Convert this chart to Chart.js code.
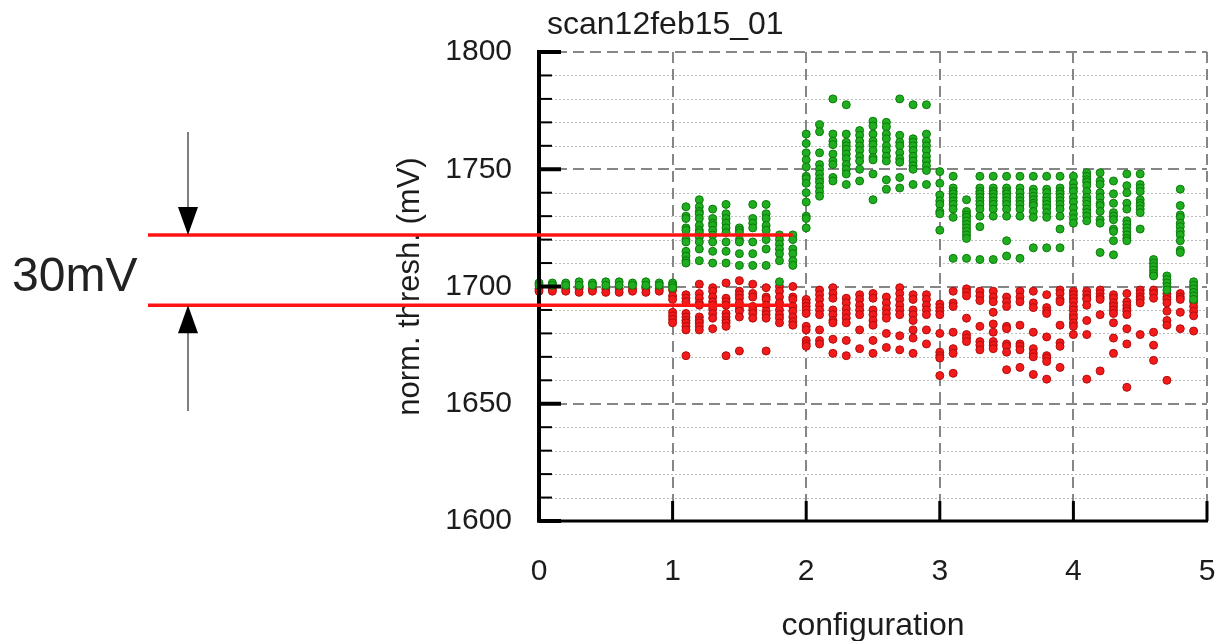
<!DOCTYPE html>
<html>
<head>
<meta charset="utf-8">
<title>scan12feb15_01</title>
<script src="https://cdn.jsdelivr.net/npm/chart.js@4.4.0/dist/chart.umd.min.js"></script>
<style>
  html, body { margin: 0; padding: 0; background: #fff; }
  #wrap { width: 1221px; height: 641px; }
</style>
</head>
<body>
<div id="wrap"><canvas id="thr" width="1221" height="641"></canvas></div>
<script>
// ----- data -----
const configs = [
  0.0, 0.1, 0.2, 0.3, 0.4, 0.5, 0.6, 0.7, 0.8, 0.9,
  1.0, 1.1, 1.2, 1.3, 1.4, 1.5, 1.6, 1.7, 1.8, 1.9,
  2.0, 2.1, 2.2, 2.3, 2.4, 2.5, 2.6, 2.7, 2.8, 2.9,
  3.0, 3.1, 3.2, 3.3, 3.4, 3.5, 3.6, 3.7, 3.8, 3.9,
  4.0, 4.1, 4.2, 4.3, 4.4, 4.5, 4.6, 4.7, 4.8, 4.9
];

// thresholds per configuration (mV), upper group
const greenThr = [
  [1701.5, 1700.5], [1701.5, 1700.5], [1701.5, 1700.5], [1702, 1700.5], [1701.5, 1700.5],
  [1702, 1700.5], [1702, 1700.5], [1701.5, 1700.5], [1702, 1700.5], [1701.5, 1700.5],
  [1701.5, 1700.5, 1699.5],
  [1734, 1730, 1729, 1725, 1724, 1720, 1719, 1715, 1713, 1711, 1710],
  [1737, 1734, 1732, 1731, 1729, 1726, 1724, 1723, 1721, 1719, 1716, 1711],
  [1733, 1729, 1727, 1726, 1724, 1722, 1719, 1715, 1710],
  [1735, 1731, 1729, 1727, 1725, 1723, 1719, 1715, 1710],
  [1725, 1724, 1723, 1720, 1719, 1714, 1709],
  [1735, 1729, 1727, 1725, 1719, 1714, 1709],
  [1735, 1731, 1729, 1726, 1724, 1720, 1716, 1709],
  [1722, 1720, 1718, 1716, 1714, 1711, 1702],
  [1722, 1720, 1716, 1714, 1711, 1709],
  [1765, 1761, 1757, 1754, 1751, 1747, 1746, 1744, 1740, 1736, 1730, 1729, 1725],
  [1769, 1766, 1757, 1752, 1750, 1748, 1746, 1744.5, 1742.5, 1740.5, 1738.5],
  [1780, 1765, 1762, 1760.5, 1756.5, 1753.5, 1752, 1746.5, 1745],
  [1777.5, 1765, 1761.5, 1760, 1758.5, 1756.5, 1754.5, 1752, 1750, 1748, 1743.5],
  [1766.5, 1764.5, 1762, 1760, 1758, 1755.5, 1753.5, 1750, 1745],
  [1770.5, 1768.5, 1765, 1762, 1760.5, 1758, 1755, 1754, 1748, 1737],
  [1770, 1768, 1765, 1763, 1760, 1758, 1755.5, 1753.5, 1745.5, 1741.5],
  [1780, 1764.5, 1761.5, 1760, 1757, 1754.5, 1753, 1746.5, 1742],
  [1777.5, 1763, 1761.5, 1760, 1758, 1755.5, 1753.5, 1751.5, 1750, 1743.5],
  [1777.5, 1765, 1762, 1760, 1758, 1755.5, 1753.5, 1751.5, 1749.5, 1743.5],
  [1749, 1744, 1739, 1736.5, 1735, 1732, 1731, 1724],
  [1747, 1742, 1740.5, 1739.5, 1738, 1736.5, 1735, 1733, 1729.5, 1712],
  [1737, 1732, 1730.5, 1729.5, 1728, 1726.5, 1725, 1723.5, 1722, 1720.5, 1712],
  [1747, 1742, 1740.5, 1739.5, 1738, 1736.5, 1735, 1733, 1730, 1725.5, 1711.5],
  [1747, 1742, 1740.5, 1739.5, 1738, 1736.5, 1735, 1733, 1730, 1711.5],
  [1747, 1742, 1740.5, 1739.5, 1738, 1736.5, 1735, 1733, 1730, 1719.5, 1713],
  [1747, 1742, 1740, 1738, 1736.5, 1735, 1733, 1730, 1712],
  [1747, 1741.5, 1740, 1738.5, 1737, 1735.5, 1734.5, 1732, 1729.5, 1716.5],
  [1747, 1741.5, 1740, 1738, 1736.5, 1735, 1733.5, 1731.5, 1729.5, 1716.5],
  [1747, 1742, 1740.5, 1739.5, 1738, 1736.5, 1735, 1733, 1730, 1724.5, 1716.5],
  [1747, 1744, 1742, 1740.5, 1738, 1736, 1733.5, 1731, 1729, 1727],
  [1748.5, 1747, 1745.5, 1744.5, 1743, 1740.5, 1738, 1736.5, 1735, 1733, 1731.5, 1730, 1728],
  [1748.5, 1745, 1743.5, 1740, 1738, 1735.5, 1734.5, 1732, 1728.5, 1727, 1714.5],
  [1745, 1739.5, 1735.5, 1731.5, 1730, 1728.5, 1724.5, 1723.5, 1719.5, 1713.5],
  [1748, 1743, 1740, 1735.5, 1733, 1728, 1726.5, 1725, 1723.5, 1722, 1720.5, 1719.5],
  [1748, 1743.5, 1742, 1740.5, 1737, 1735.5, 1734.5, 1733, 1731.5, 1724.5],
  [1711.5, 1710, 1708.5, 1707, 1705.5, 1704.5],
  [1704.5, 1703, 1701.5, 1700, 1698.5],
  [1741.5, 1734.5, 1730.5, 1729.5, 1727, 1725.5, 1723.5, 1722, 1719.5, 1715.5, 1714.5],
  [1702, 1700.5, 1699, 1697.5, 1696, 1694.5]
];

// thresholds per configuration (mV), lower group
const redThr = [
  [1699, 1698], [1699, 1698], [1699, 1698], [1699, 1697.5], [1699, 1698],
  [1699, 1697.5], [1699, 1697.5], [1699, 1698], [1699, 1697.5], [1699, 1698],
  [1698.5, 1696, 1694.5, 1689, 1687.5, 1686, 1684.5],
  [1696.5, 1695, 1693.5, 1688.5, 1687, 1685.5, 1684.5, 1683, 1681.5, 1670.5],
  [1701, 1697, 1695, 1693, 1692, 1687, 1685.5, 1684.5, 1683, 1681.5],
  [1699.5, 1698, 1695.5, 1693.5, 1692, 1690.5, 1688.5, 1686.5, 1682],
  [1701.5, 1695, 1693.5, 1692, 1688.5, 1687, 1685.5, 1684.5, 1683, 1670.5],
  [1702.5, 1698, 1696.5, 1695, 1693, 1690.5, 1689.5, 1687, 1672.5],
  [1701, 1697, 1695.5, 1691.5, 1690, 1688.5, 1686.5],
  [1699.5, 1695.5, 1694.5, 1692, 1689.5, 1688, 1686.5, 1672.5],
  [1700, 1698, 1695.5, 1693, 1690, 1688, 1686.5, 1684.5],
  [1700, 1695.5, 1694.5, 1691.5, 1689.5, 1687, 1685, 1683.5],
  [1694.5, 1693, 1691.5, 1690, 1688.5, 1683, 1681.5, 1677, 1675.5, 1674.5],
  [1698.5, 1696.5, 1694.5, 1692, 1690, 1688, 1681.5, 1677, 1675.5],
  [1699.5, 1697, 1695, 1690, 1688, 1685.5, 1684.5, 1677.5, 1671.5],
  [1695, 1693, 1690.5, 1688.5, 1686.5, 1684.5, 1677, 1670.5],
  [1696.5, 1694.5, 1692, 1690, 1688, 1681.5, 1673.5],
  [1697, 1695, 1690, 1688, 1685.5, 1683.5, 1677, 1671.5],
  [1695.5, 1693, 1690.5, 1688.5, 1686.5, 1680, 1674],
  [1699.5, 1697, 1694.5, 1692, 1690, 1688, 1679, 1673],
  [1696.5, 1694.5, 1690, 1688, 1685.5, 1681.5, 1678, 1671.5],
  [1696.5, 1694.5, 1692, 1690, 1688, 1681.5, 1675.5],
  [1692.5, 1691, 1689.5, 1688, 1680, 1672, 1670.5, 1669.5, 1662],
  [1698, 1693, 1691.5, 1680.5, 1673.5, 1671.5, 1663],
  [1699, 1697.5, 1696, 1686.5, 1679.5, 1678, 1676.5],
  [1698, 1696, 1694, 1683, 1676.5, 1675, 1673],
  [1698, 1695.5, 1693.5, 1689, 1684, 1680.5, 1676.5, 1675, 1673.5],
  [1695.5, 1693.5, 1691.5, 1683, 1682, 1675.5, 1674.5, 1672, 1664.5],
  [1698, 1695.5, 1693.5, 1683.5, 1675.5, 1674.5, 1673, 1665.5],
  [1698, 1693, 1691, 1680.5, 1673.5, 1671.5, 1670, 1662.5],
  [1696.5, 1691, 1689.5, 1688.5, 1678.5, 1670.5, 1669.5, 1668, 1660.5],
  [1698.5, 1697, 1694.5, 1693.5, 1683.5, 1676, 1674.5, 1665.5],
  [1698, 1696.5, 1695, 1693.5, 1691.5, 1690, 1688, 1686.5, 1684.5, 1683, 1679.5],
  [1698, 1696.5, 1695, 1694.5, 1692, 1685.5, 1679.5, 1660.5],
  [1698.5, 1697, 1695.5, 1694.5, 1688, 1664],
  [1696.5, 1695, 1693, 1691.5, 1690, 1688.5, 1684.5, 1678, 1671.5],
  [1697, 1693.5, 1692, 1690.5, 1689.5, 1688, 1682, 1675.5, 1657],
  [1698.5, 1697, 1695.5, 1694.5, 1693, 1679.5],
  [1698.5, 1697, 1695, 1680.5, 1675, 1668.5],
  [1697, 1695.5, 1694.5, 1693, 1689.5, 1685.5, 1683.5, 1660],
  [1697, 1695.5, 1694.5, 1689, 1682],
  [1693.5, 1691.5, 1689.5, 1687.5, 1681]
];

// spread markers drawn across the flat part of the scan
const spreadLevels = [1722, 1692];
const spreadEndConfig = 1.9;

const yTickStep = 10, yLabelStep = 50;

// ----- helpers -----
const FONT = '"Liberation Sans", Arial, Helvetica, sans-serif';
const INK = '#1c1c1c';
const toPoints = (cols) => cols.flatMap((ys, i) => ys.map((y) => ({ x: configs[i], y })));

function seg(ctx, x1, y1, x2, y2) {
  ctx.beginPath(); ctx.moveTo(x1, y1); ctx.lineTo(x2, y2); ctx.stroke();
}
function tri(ctx, tipX, tipY, baseY, half) {
  ctx.beginPath();
  ctx.moveTo(tipX, tipY); ctx.lineTo(tipX - half, baseY); ctx.lineTo(tipX + half, baseY);
  ctx.closePath(); ctx.fill();
}

// grid, axes with inward ticks, title and the spread marker
const plotDecor = {
  id: 'plotDecor',
  beforeDatasetsDraw(chart) {
    const { ctx, chartArea: a, scales: { x, y } } = chart;
    ctx.save();
    ctx.lineWidth = 1; ctx.strokeStyle = '#bdbdbd'; ctx.setLineDash([2, 2]);
    y.ticks.forEach((t) => {
      if (t.value % yLabelStep === 0) return;
      const py = Math.round(y.getPixelForValue(t.value)) + 0.5;
      seg(ctx, a.left, py, a.right, py);
    });
    ctx.lineWidth = 2; ctx.strokeStyle = '#868686'; ctx.setLineDash([11, 6]);
    y.ticks.forEach((t) => {
      if (t.value % yLabelStep !== 0 || t.value === y.min) return;
      const py = Math.round(y.getPixelForValue(t.value));
      seg(ctx, a.left, py, a.right, py);
    });
    x.ticks.forEach((t) => {
      if (t.value === x.min) return;
      const px = Math.round(x.getPixelForValue(t.value));
      seg(ctx, px, a.top, px, a.bottom);
    });
    ctx.restore();
  },
  afterDatasetsDraw(chart) {
    const { ctx, chartArea: a, scales: { x, y } } = chart;
    ctx.save();
    ctx.setLineDash([]);
    ctx.strokeStyle = '#000';

    // y ticks point into the plot
    y.ticks.forEach((t) => {
      const py = y.getPixelForValue(t.value);
      const major = t.value % yLabelStep === 0;
      ctx.lineWidth = major ? 4 : 2;
      seg(ctx, a.left, py, a.left + (major ? 22 : 13), py);
    });
    ctx.lineWidth = 3;
    x.ticks.forEach((t) => {
      const px = x.getPixelForValue(t.value);
      seg(ctx, px, a.bottom, px, a.bottom - 20);
    });
    ctx.lineWidth = 4;
    seg(ctx, a.left, a.top - 2, a.left, a.bottom + 1.5);
    ctx.lineWidth = 3;
    seg(ctx, a.left - 2, a.bottom, a.right + 1, a.bottom);

    ctx.fillStyle = INK;
    ctx.font = `32px ${FONT}`;
    ctx.textAlign = 'left'; ctx.textBaseline = 'alphabetic';
    ctx.fillText('scan12feb15_01', a.left + 8, 34);

    // spread marker
    const yHi = y.getPixelForValue(spreadLevels[0]);
    const yLo = y.getPixelForValue(spreadLevels[1]);
    const xEnd = x.getPixelForValue(spreadEndConfig);
    ctx.strokeStyle = '#ff1414'; ctx.lineWidth = 3.5;
    seg(ctx, 148, yHi, xEnd, yHi);
    seg(ctx, 148, yLo, xEnd, yLo);

    const ax = 188;
    ctx.strokeStyle = '#000'; ctx.fillStyle = '#000'; ctx.lineWidth = 1;
    seg(ctx, ax, 132, ax, yHi - 26);
    tri(ctx, ax, yHi, yHi - 28, 10);
    seg(ctx, ax, yLo + 26, ax, 411);
    tri(ctx, ax, yLo, yLo + 28, 10);

    ctx.fillStyle = '#222';
    ctx.font = `48px ${FONT}`;
    ctx.fillText(`${spreadLevels[0] - spreadLevels[1]}mV`, 12, 291);
    ctx.restore();
  }
};

const ctx = document.getElementById('thr').getContext('2d');
new Chart(ctx, {
  type: 'scatter',
  data: {
    datasets: [
      { label: 'upper', data: toPoints(greenThr), backgroundColor: '#1fae1f', borderColor: '#0b7a0b',
        borderWidth: 1, pointRadius: 4, clip: false },
      { label: 'lower', data: toPoints(redThr), backgroundColor: '#f21a1a', borderColor: '#b30c0c',
        borderWidth: 1, pointRadius: 4, clip: false }
    ]
  },
  options: {
    responsive: false, animation: false, devicePixelRatio: 1, events: [],
    layout: { padding: { left: 380, right: 14, top: 52, bottom: 0 } },
    plugins: { legend: { display: false }, tooltip: { enabled: false } },
    scales: {
      x: {
        type: 'linear', min: 0, max: 5,
        grid: { display: false, drawTicks: false }, border: { display: false },
        ticks: { stepSize: 1, autoSkip: false, maxRotation: 0, padding: 33, color: INK, font: { family: FONT, size: 30 } },
        title: { display: true, text: 'configuration', color: INK, font: { family: FONT, size: 32 }, padding: { top: 0, bottom: -4 } },
        // labels sit low under the axis; keep that gap from widening the right margin
        afterFit: (s) => { s.height = 120; s.paddingLeft = 0; s.paddingRight = 0; }
      },
      y: {
        type: 'linear', min: 1600, max: 1800,
        grid: { display: false, drawTicks: false }, border: { display: false },
        ticks: { stepSize: yTickStep, autoSkip: false, padding: 27, color: INK, font: { family: FONT, size: 30 },
                 callback: (v) => (v % yLabelStep === 0 ? v : '') },
        title: { display: true, text: 'norm. thresh. (mV)', color: INK, font: { family: FONT, size: 31 }, padding: { top: 12, bottom: 0 } },
        afterFit: (s) => { s.width = 159; }
      }
    }
  },
  plugins: [plotDecor]
});
</script>
</body>
</html>
